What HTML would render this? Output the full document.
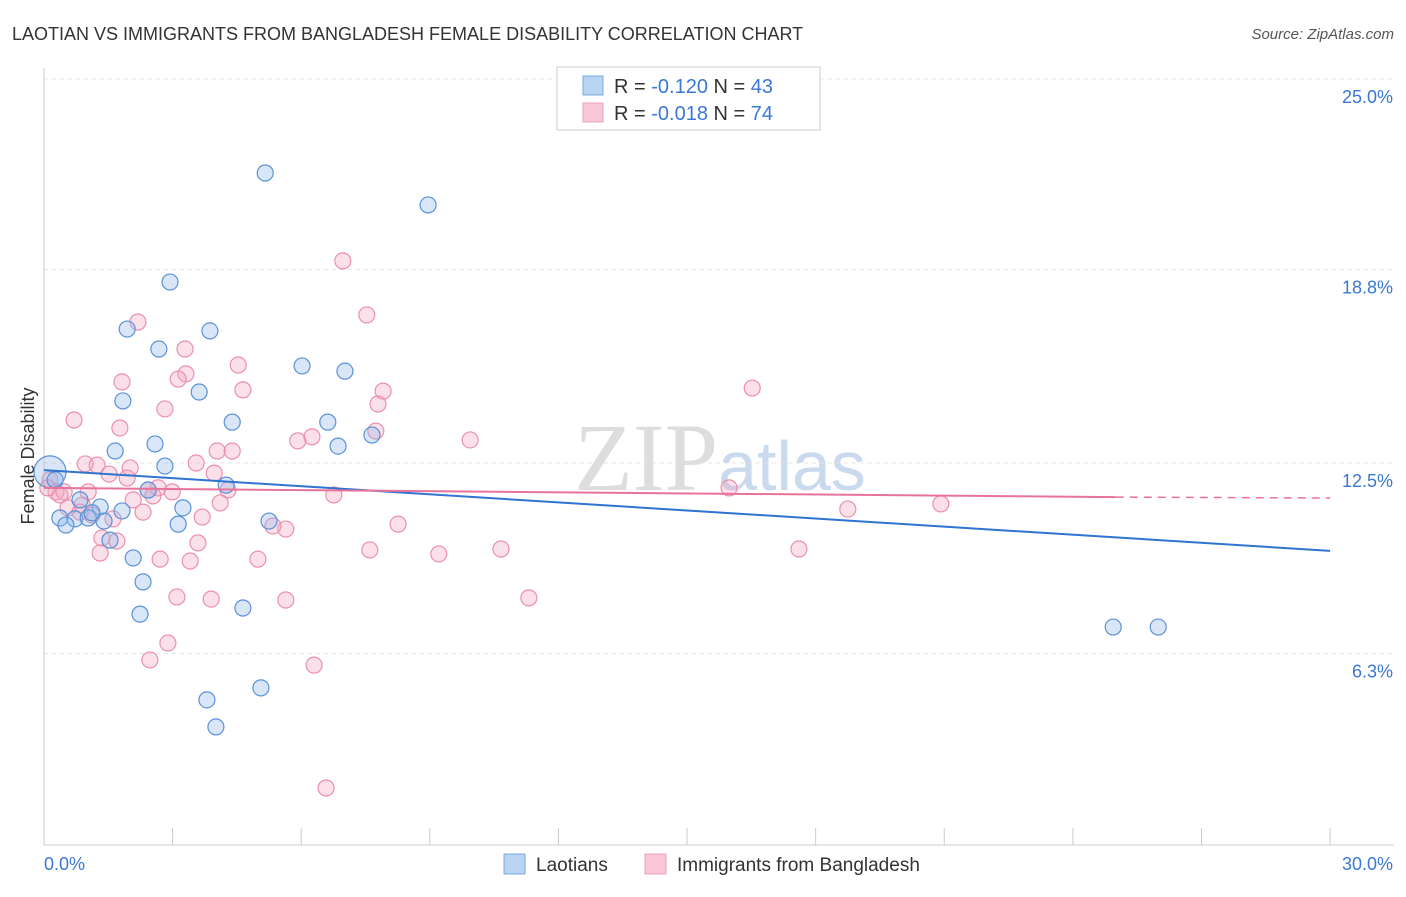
<!DOCTYPE html>
<html><head><meta charset="utf-8"><style>
body{margin:0;background:#fff;font-family:"Liberation Sans",sans-serif}
</style></head><body>
<svg id="chart" width="1406" height="892" xmlns="http://www.w3.org/2000/svg" font-family="Liberation Sans, sans-serif">
<text x="12" y="40" font-size="18" fill="#333">LAOTIAN VS IMMIGRANTS FROM BANGLADESH FEMALE DISABILITY CORRELATION CHART</text>
<text x="1394" y="39" font-size="15" fill="#555" text-anchor="end" font-style="italic">Source: ZipAtlas.com</text>
<text x="720" y="490" font-size="96" text-anchor="middle" fill="#ddd" font-family="Liberation Serif, serif">ZIP<tspan fill="#c9d9ee" font-family="Liberation Sans, sans-serif" font-size="70">atlas</tspan></text>
<g id="grid"></g><g id="axes"></g><g id="marks"></g>
<g>
<rect x="557" y="67" width="263" height="63" fill="#fff" stroke="#ccc"/>
<rect x="583" y="76" width="20" height="19" fill="#b9d3f3" stroke="#7aa8e0"/>
<rect x="583" y="103" width="20" height="19" fill="#f8c8d6" stroke="#eea0b8"/>
<text x="614" y="93" font-size="20" fill="#333">R = <tspan fill="#3a78d4">-0.120</tspan>   N = <tspan fill="#3a78d4">43</tspan></text>
<text x="614" y="120" font-size="20" fill="#333">R = <tspan fill="#3a78d4">-0.018</tspan>   N = <tspan fill="#3a78d4">74</tspan></text>
</g>
<g>
<rect x="504" y="854" width="21" height="20" fill="#b9d3f3" stroke="#7aa8e0"/>
<text x="536" y="871" font-size="19" fill="#333">Laotians</text>
<rect x="645" y="854" width="21" height="20" fill="#f8c8d6" stroke="#eea0b8"/>
<text x="677" y="871" font-size="19" fill="#333">Immigrants from Bangladesh</text>
</g>
<text transform="translate(34,456) rotate(-90)" font-size="18" fill="#333" text-anchor="middle">Female Disability</text>
</svg>
<script>
const yTicks=[25.0,18.8,12.5,6.3];
const yTickLabels=["25.0%","18.8%","12.5%","6.3%"];
const xTickLabels=["0.0%","30.0%"];
const blueX=[5.16,8.96,2.94,1.94,3.87,2.68,6.02,7.02,3.62,1.84,4.39,6.62,7.65,2.59,6.86,1.66,2.82,0.14,2.43,4.25,3.24,1.31,1.82,0.37,0.72,1.03,0.51,1.40,3.13,5.25,1.54,2.08,2.31,4.64,2.24,24.94,25.99,5.06,3.80,4.01,0.26,0.84,1.12];
const blueY=[21.94,20.90,18.39,16.86,16.80,16.21,15.66,15.49,14.81,14.52,13.83,13.83,13.41,13.12,13.05,12.89,12.40,12.21,11.62,11.78,11.04,11.07,10.94,10.71,10.68,10.71,10.48,10.61,10.51,10.61,9.99,9.41,8.63,7.78,7.58,7.16,7.16,5.18,4.79,3.91,11.95,11.30,10.88];
const pinkX=[6.97,7.53,2.19,3.29,3.31,3.13,4.53,1.82,4.64,7.91,16.52,7.79,2.82,0.70,1.77,7.74,9.94,5.92,6.25,4.04,4.39,3.55,0.96,1.24,2.01,1.52,3.97,1.94,0.14,0.28,2.43,2.66,2.99,1.03,0.47,6.76,2.08,2.54,4.29,15.98,20.92,18.75,0.56,0.84,1.61,2.31,3.69,5.64,5.34,8.26,1.35,1.70,3.59,1.31,7.60,9.21,10.66,17.61,2.71,3.41,4.99,3.10,3.90,5.64,11.31,2.89,2.47,6.30,6.58,0.37,0.89,1.12,4.11,0.09];
const pinkY=[19.08,17.32,17.09,16.21,15.40,15.23,15.69,15.14,14.88,14.84,14.94,14.42,14.26,13.90,13.64,13.54,13.25,13.22,13.35,12.89,12.89,12.50,12.47,12.43,12.34,12.14,12.17,12.01,11.95,11.56,11.62,11.69,11.56,11.56,11.56,11.46,11.30,11.43,11.62,11.69,11.17,11.00,11.04,10.90,10.68,10.90,10.74,10.35,10.45,10.51,10.06,9.96,9.90,9.57,9.67,9.54,9.70,9.70,9.37,9.31,9.37,8.14,8.07,8.04,8.11,6.64,6.09,5.92,1.92,11.46,11.13,10.81,11.20,11.69];
const blueTrend=[12.27,9.64];
const pinkTrend=[11.69,11.39,11.36];
const pinkSolidEnd=25.0;
const NS="http://www.w3.org/2000/svg";
const sx=v=>44+v*42.87, sy=v=>79+(25-v)*30.72;
function mk(t,a,p){const e=document.createElementNS(NS,t);for(const k in a)e.setAttribute(k,a[k]);p.appendChild(e);return e;}
const grid=document.getElementById('grid'),axes=document.getElementById('axes'),marks=document.getElementById('marks');
yTicks.forEach((t,i)=>{
 const l=mk('line',{x1:44,x2:1394,y1:sy(t),y2:sy(t),stroke:'#e4e4e4','stroke-dasharray':'4,4'},grid);
 
 
 const tx=mk('text',{x:1393,y:sy(t)+24,'font-size':18,fill:'#3a78d4','text-anchor':'end'},axes);tx.textContent=yTickLabels[i];
 
 
});
const ax=mk('line',{x1:44,x2:1394,y1:845,y2:845,stroke:'#ccc'},axes);


const ay=mk('line',{x1:44,x2:44,y1:68,y2:845,stroke:'#ccc'},axes);


for(let i=0;i<=10;i++){const tk=mk('line',{x1:sx(i*3),x2:sx(i*3),y1:828,y2:845,stroke:'#ccc'},axes);
 
 }
xTickLabels.forEach((s,i)=>{const t=mk('text',{x:i?1393:44,y:870,'font-size':18,fill:'#3a78d4','text-anchor':i?'end':'start'},axes);t.textContent=s;
 
 });
function pts(X,Y,fill,stroke,name){X.forEach((x,i)=>{const r=(name==='laotian-point'&&i===17)?16:8;
 const c=mk('circle',{cx:sx(x),cy:sy(Y[i]),r:r,fill:fill,'fill-opacity':0.35,stroke:stroke,'stroke-width':1.2},marks);
 
 });}
pts(pinkX,pinkY,'#f4a6bf','#ec8fae','bangladesh-point');
pts(blueX,blueY,'#8fb8ea','#5a92d8','laotian-point');
const bl=mk('line',{x1:sx(0),y1:sy(blueTrend[0]),x2:sx(30),y2:sy(blueTrend[1]),stroke:'#2f74d0','stroke-width':2},marks);


const pl=mk('line',{x1:sx(0),y1:sy(pinkTrend[0]),x2:sx(pinkSolidEnd),y2:sy(pinkTrend[1]),stroke:'#e8739a','stroke-width':2},marks);


const pd=mk('line',{x1:sx(pinkSolidEnd),y1:sy(pinkTrend[1]),x2:sx(30),y2:sy(pinkTrend[2]),stroke:'#e8739a','stroke-width':1.5,'stroke-dasharray':'8,6'},marks);


</script>
</body></html>
